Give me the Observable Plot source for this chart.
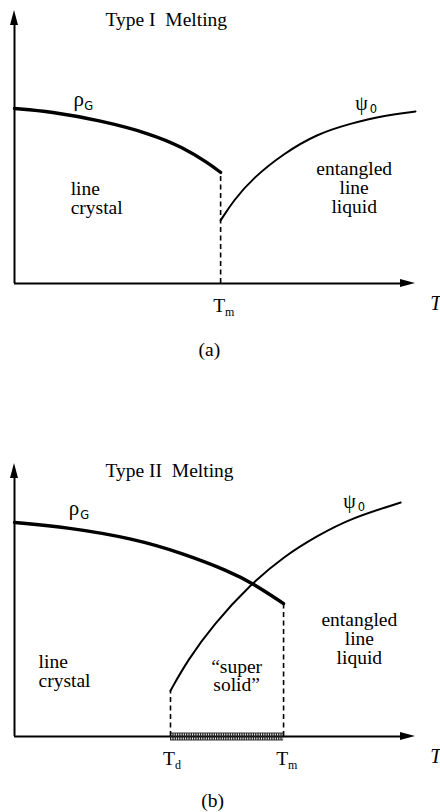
<!DOCTYPE html>
<html>
<head>
<meta charset="utf-8">
<script src="https://cdn.jsdelivr.net/npm/d3@7"></script>
<script src="https://cdn.jsdelivr.net/npm/@observablehq/plot@0.6"></script>
<style>
  body { margin: 0; background: #fff; }
  #chart svg { display: block; background: #fff; }
</style>
</head>
<body>
<div id="chart"></div>
<script>
// Order parameters of a flux-line system against temperature T (arbitrary units).
// rho_G: crystalline order; psi_0: boson (entanglement) order.

// ---- (a) Type I melting: both change at a single T_m
const tmA = 5.14;
const rhoA_T = [0, 0.90, 2.14, 3.39, 4.21, 4.81, 5.14];
const rhoA_v = [6.41, 6.30, 5.97, 5.49, 4.98, 4.43, 4.07];
const psiA_T = [5.14, 5.46, 5.96, 6.71, 7.56, 8.38, 9.20, 10.0];
const psiA_v = [2.31, 3.04, 3.88, 4.76, 5.49, 5.86, 6.15, 6.30];

// ---- (b) Type II melting: psi_0 appears at T_d, rho_G vanishes at T_m
const tdB = 3.89;
const tmB = 6.71;
const rhoB_T = [0, 1.32, 2.97, 4.21, 5.31, 5.96, 6.71];
const rhoB_v = [7.84, 7.66, 7.25, 6.70, 6.08, 5.60, 4.87];
const psiB_T = [3.89, 4.31, 4.96, 5.89, 6.71, 7.56, 8.38, 9.63];
const psiB_v = [1.68, 2.78, 4.10, 5.58, 6.59, 7.36, 7.99, 8.57];

// ---- text
const titles = ["Type I\u00a0\u00a0Melting", "Type II\u00a0\u00a0Melting"];
const panelTags = ["(a)", "(b)"];

const serif = "Liberation Serif";
const toPts = (ts, vs) => ts.map((t, i) => ({T: t, v: vs[i]}));

function panel({height, yRange, rho, psi, ticks, band,
                title, tag, rhoLbl, psiLbl, leftLabels, midLabels}) {
  const X = {domain: [0, 10], range: [14, 415]};
  const Y = {domain: [0, 10], range: yRange};
  const pxX = (X.range[1] - X.range[0]) / 10;   // pixels per unit T
  const pxY = (Y.range[0] - Y.range[1]) / 10;   // pixels per unit value
  const headL = 15, headW = 4;                   // arrowhead size in px
  const xHead = [{x: 10 - headL / pxX, lo: -headW / pxY, hi: headW / pxY}, {x: 10, lo: 0, hi: 0}];
  const yHead = [{y: 10 - headL / pxY, lo: -headW / pxX, hi: headW / pxX}, {y: 10, lo: 0, hi: 0}];
  const txt = {lineAnchor: "bottom", fontFamily: serif, fill: "black"};

  const marks = [
    // axes with filled arrowheads
    Plot.ruleY([0], {x1: 0, x2: 10 - headL / pxX + 0.05, strokeWidth: 2}),
    Plot.ruleX([0], {y1: 0, y2: 10 - headL / pxY + 0.05, strokeWidth: 2}),
    Plot.areaY(xHead, {x: "x", y1: "lo", y2: "hi", fill: "black"}),
    Plot.areaX(yHead, {y: "y", x1: "lo", x2: "hi", fill: "black"}),
  ];
  if (band) {
    // hatched coexistence interval on the T axis
    marks.push(
      Plot.ruleY([0], {x1: band[0], x2: band[1], strokeWidth: 7, stroke: "#222", strokeDasharray: "1.3,1"}),
      Plot.ruleY([0], {x1: band[0], x2: band[1], dy: -3.5, strokeWidth: 1, stroke: "#333"}),
      Plot.ruleY([0], {x1: band[0], x2: band[1], dy: 3.5, strokeWidth: 1, stroke: "#333"})
    );
  }
  marks.push(
    // dashed drops from the curve ends to the axis
    Plot.ruleX(ticks, {x: "T", y1: 0, y2: "v", strokeDasharray: "5,3.5", strokeWidth: 1.6}),
    Plot.line(rho, {x: "T", y: "v", curve: "basis", strokeWidth: 3.4}),
    Plot.line(psi, {x: "T", y: "v", curve: "basis", strokeWidth: 2}),
    // title
    Plot.text([title.text], {...txt, x: 2.27, y: title.y, textAnchor: "start", fontSize: 19.5}),
    // rho_G and psi_0 symbols
    Plot.text(["\u03c1"], {...txt, x: rhoLbl.x, y: rhoLbl.y, textAnchor: "start", fontSize: 21}),
    Plot.text(["G"], {...txt, x: rhoLbl.sx, y: rhoLbl.sy, textAnchor: "start", fontSize: 11.5,
                      fontFamily: "DejaVu Sans"}),
    Plot.text(["\u03c8"], {...txt, x: psiLbl.x, y: psiLbl.y, textAnchor: "start", fontSize: 20}),
    Plot.text(["0"], {...txt, x: psiLbl.sx, y: psiLbl.sy, textAnchor: "start", fontSize: 11.5,
                      fontFamily: "DejaVu Sans"}),
    // region names
    Plot.text(leftLabels, {...txt, x: "x", y: "y", text: "text", textAnchor: "start",
                           lineHeight: 0.97, fontSize: 19.5}),
    Plot.text(midLabels, {...txt, x: "x", y: "y", text: "text", textAnchor: "middle",
                          lineHeight: 0.97, fontSize: 19.5}),
    // temperature marks under the axis
    Plot.text(ticks, {...txt, x: "T", y: 0, text: () => "T", textAnchor: "end", dx: 4.5, dy: 28, fontSize: 19.5}),
    Plot.text(ticks, {...txt, x: "T", y: 0, text: "sub", textAnchor: "start", dx: 4.5, dy: 32, fontSize: 12}),
    Plot.text(["T"], {...txt, x: 10.37, y: 0, dy: 26, textAnchor: "start", fontSize: 20, fontStyle: "italic"}),
    Plot.text([tag.text], {...txt, x: tag.x, y: 0, dy: tag.dy, textAnchor: "middle", fontSize: 19.5})
  );
  return Plot.plot({
    width: 440, height,
    margin: 0,
    x: {...X, axis: null},
    y: {...Y, axis: null},
    marks
  });
}

const rhoA = toPts(rhoA_T, rhoA_v);
const psiA = toPts(psiA_T, psiA_v);
const rhoB = toPts(rhoB_T, rhoB_v);
const psiB = toPts(psiB_T, psiB_v);

const chartA = panel({
  height: 410, yRange: [283, 10],
  rho: rhoA, psi: psiA,
  ticks: [{T: tmA, v: rhoA_v[rhoA_v.length - 1], sub: "m"}],
  band: null,
  title: {text: titles[0], y: 9.45},
  tag: {text: panelTags[0], x: 4.86, dy: 72},
  rhoLbl: {x: 1.47, y: 6.52, sx: 1.74, sy: 6.36},
  psiLbl: {x: 8.50, y: 6.36, sx: 8.86, sy: 6.26},
  leftLabels: [{text: "line\ncrystal", x: 1.40, y: 2.56}],
  midLabels: [{text: "entangled\nline\nliquid", x: 8.47, y: 2.60}]
});

const chartB = panel({
  height: 402, yRange: [326, 53],
  rho: rhoB, psi: psiB,
  ticks: [
    {T: tdB, v: psiB_v[0], sub: "d"},
    {T: tmB, v: rhoB_v[rhoB_v.length - 1], sub: "m"}
  ],
  band: [tdB, tmB],
  title: {text: titles[1], y: 9.49},
  tag: {text: panelTags[1], x: 4.94, dy: 70},
  rhoLbl: {x: 1.35, y: 8.10, sx: 1.64, sy: 7.96},
  psiLbl: {x: 8.20, y: 8.36, sx: 8.56, sy: 8.26},
  leftLabels: [{text: "line\ncrystal", x: 0.60, y: 1.83}],
  midLabels: [
    {text: "\u201csuper\nsolid\u201d", x: 5.54, y: 1.65},
    {text: "entangled\nline\nliquid", x: 8.60, y: 2.67}
  ]
});

document.getElementById("chart").append(chartA, chartB);
</script>
</body>
</html>
